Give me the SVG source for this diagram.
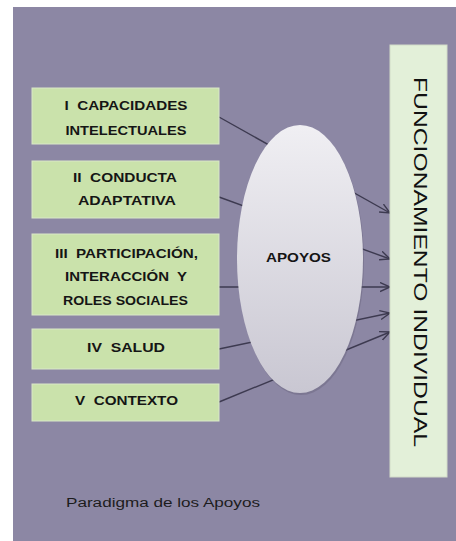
<svg xmlns="http://www.w3.org/2000/svg" width="456" height="541" viewBox="0 0 456 541">
<defs>
<linearGradient id="ellG" x1="0" y1="0" x2="0" y2="1">
<stop offset="0" stop-color="#f0eff3"/>
<stop offset="1" stop-color="#c9c7d2"/>
</linearGradient>
<marker id="arr" markerWidth="12" markerHeight="12" refX="10" refY="5" orient="auto" markerUnits="userSpaceOnUse">
<path d="M0,0.5 L10,5 L0,9.5" fill="none" stroke="#3d3a50" stroke-width="1.4"/>
</marker>
<style>
.box{fill:#cae2ab;stroke:#d9e8c8;stroke-width:1}
.lbl{font-family:"Liberation Sans",Arial,sans-serif;font-weight:bold;font-size:12.5px;fill:#151515;text-anchor:middle;white-space:pre}
.con{stroke:#3d3a50;stroke-width:1.4;fill:none}
</style>
</defs>
<rect x="0" y="0" width="456" height="541" fill="#ffffff"/>
<rect x="13" y="7" width="443" height="534" fill="#8c87a4"/>
<g id="connectors">
<line class="con" x1="219" y1="117" x2="390" y2="213" marker-end="url(#arr)"/>
<line class="con" x1="219" y1="197" x2="390" y2="259" marker-end="url(#arr)"/>
<line class="con" x1="219" y1="287" x2="390" y2="287" marker-end="url(#arr)"/>
<line class="con" x1="219" y1="349" x2="390" y2="313" marker-end="url(#arr)"/>
<line class="con" x1="219" y1="402" x2="390" y2="332" marker-end="url(#arr)"/>
</g>
<g id="node-capacidades">
<rect class="box" x="32" y="88" width="187" height="56"/>
<text class="lbl" x="126" y="109.5" textLength="123" lengthAdjust="spacingAndGlyphs" xml:space="preserve">I  CAPACIDADES</text>
<text class="lbl" x="126" y="134.5" textLength="121" lengthAdjust="spacingAndGlyphs">INTELECTUALES</text>
</g>
<g id="node-conducta">
<rect class="box" x="32" y="161" width="187" height="57"/>
<text class="lbl" x="125" y="181.5" textLength="104" lengthAdjust="spacingAndGlyphs" xml:space="preserve">II  CONDUCTA</text>
<text class="lbl" x="127" y="204.5" textLength="98" lengthAdjust="spacingAndGlyphs">ADAPTATIVA</text>
</g>
<g id="node-participacion">
<rect class="box" x="32" y="234" width="187" height="81"/>
<text class="lbl" x="126.5" y="257.5" textLength="143" lengthAdjust="spacingAndGlyphs" xml:space="preserve">III  PARTICIPACIÓN,</text>
<text class="lbl" x="126" y="280.5" textLength="122" lengthAdjust="spacingAndGlyphs" xml:space="preserve">INTERACCIÓN  Y</text>
<text class="lbl" x="125.5" y="304.5" textLength="125" lengthAdjust="spacingAndGlyphs">ROLES SOCIALES</text>
</g>
<g id="node-salud">
<rect class="box" x="32" y="329" width="187" height="40"/>
<text class="lbl" x="126" y="351.5" textLength="78" lengthAdjust="spacingAndGlyphs" xml:space="preserve">IV  SALUD</text>
</g>
<g id="node-contexto">
<rect class="box" x="32" y="384" width="187" height="37"/>
<text class="lbl" x="126.5" y="404.5" textLength="103" lengthAdjust="spacingAndGlyphs" xml:space="preserve">V  CONTEXTO</text>
</g>
<g id="node-apoyos">
<ellipse cx="301" cy="261" rx="63" ry="134" fill="#5e5a72" opacity="0.35"/>
<ellipse cx="300" cy="259" rx="63" ry="134" fill="url(#ellG)"/>
<text class="lbl" x="298.5" y="261.5" textLength="65" lengthAdjust="spacingAndGlyphs">APOYOS</text>
</g>
<g id="node-funcionamiento">
<rect x="390" y="45" width="57" height="432" fill="#e3f0d9" stroke="#d2dcc8" stroke-width="1"/>
<text x="420" y="262" transform="rotate(90 420 262)" font-family="'Liberation Sans',Arial,sans-serif" font-size="18.5" fill="#111111" text-anchor="middle" dominant-baseline="central" textLength="370" lengthAdjust="spacingAndGlyphs">FUNCIONAMIENTO INDIVIDUAL</text>
</g>
<text id="caption" x="66" y="507" font-family="'Liberation Sans',Arial,sans-serif" font-size="12.5" fill="#1c1c1c" textLength="194" lengthAdjust="spacingAndGlyphs">Paradigma de los Apoyos</text>
</svg>
